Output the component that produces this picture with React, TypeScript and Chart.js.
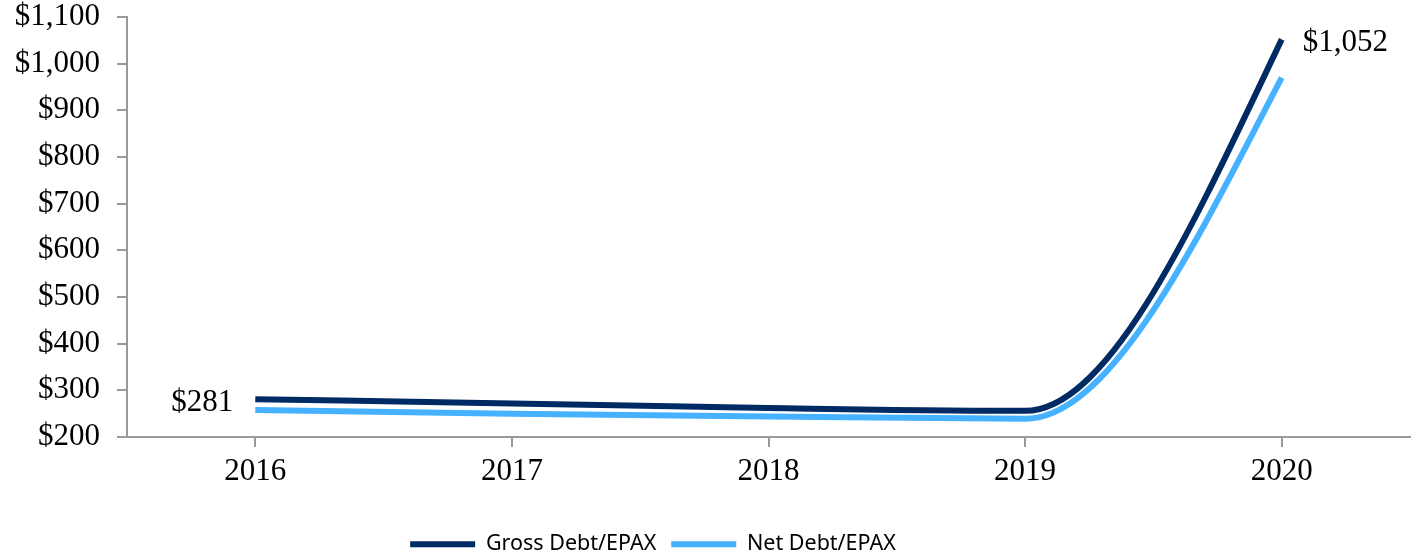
import React, { useEffect, useRef } from "react";
import { Chart, registerables } from "chart.js";

Chart.register(...registerables);

const categories = ["2016", "2017", "2018", "2019", "2020"];
const grossDebt = [281, 272, 262, 256, 1052];
const netDebt = [258, 250, 244, 239, 970];
const yTicks = [200, 300, 400, 500, 600, 700, 800, 900, 1000, 1100];
const seriesNames = ["Gross Debt/EPAX", "Net Debt/EPAX"];
const seriesColors = ["#002a64", "#45b1ff"];
// data labels: [datasetIndex, pointIndex, side]
const dataLabels: [number, number, string][] = [
  [0, 0, "left"],
  [0, 4, "right"],
];
// smoothing: how steep the curve ends compared with the last segment's secant
const endTangentScale = 1.45;

const fmt = (v: number) => "$" + v.toLocaleString("en-US");

const labelPlugin = {
  id: "pointLabels",
  afterDatasetsDraw(chart: any) {
    const ctx = chart.ctx;
    ctx.save();
    ctx.font = "31px 'Liberation Serif'";
    ctx.fillStyle = "#000";
    ctx.textBaseline = "middle";
    dataLabels.forEach(([di, pi, side]) => {
      const meta = chart.getDatasetMeta(di);
      const pt = meta.data[pi];
      const v = chart.data.datasets[di].data[pi] as number;
      if (side === "left") {
        ctx.textAlign = "right";
        ctx.fillText(fmt(v), pt.x - 22, pt.y + 4);
      } else {
        ctx.textAlign = "left";
        ctx.fillText(fmt(v), pt.x + 21, pt.y + 3);
      }
    });
    ctx.restore();
  },
};

const endTangent = {
  id: "endTangent",
  beforeDatasetDraw(chart: any, args: any) {
    const line = args.meta.dataset;
    if (!line) return;
    line.updateControlPoints(chart.chartArea, "x");
    const pts = line._points || line.points;
    const n = pts.length;
    if (n < 2) return;
    const last = pts[n - 1];
    const prev = pts[n - 2];
    last.cp1y = last.y - (endTangentScale * (last.y - prev.y)) / 3;
  },
};

const legendShift = {
  id: "legendShift",
  afterLayout(chart: any) {
    const lg = chart.legend;
    if (lg) {
      lg.left -= 52;
      lg.right -= 52;
    }
  },
};

export default function App() {
  const ref = useRef<HTMLCanvasElement>(null);
  useEffect(() => {
    if (!ref.current) return;
    const chart = new Chart(ref.current, {
      type: "line",
      data: {
        labels: categories,
        datasets: [
          {
            label: seriesNames[0],
            data: grossDebt,
            borderColor: seriesColors[0],
            backgroundColor: seriesColors[0],
            borderWidth: 6,
            pointRadius: 0,
            cubicInterpolationMode: "monotone",
            borderCapStyle: "butt",
          },
          {
            label: seriesNames[1],
            data: netDebt,
            borderColor: seriesColors[1],
            backgroundColor: seriesColors[1],
            borderWidth: 6,
            pointRadius: 0,
            cubicInterpolationMode: "monotone",
            borderCapStyle: "butt",
          },
        ],
      },
      options: {
        animation: false,
        responsive: true,
        maintainAspectRatio: false,
        layout: { padding: { top: 0, right: 8, bottom: -9, left: 0 } },
        plugins: {
          tooltip: { enabled: false },
          legend: {
            position: "bottom",
            labels: {
              boxWidth: 65,
              boxHeight: 6,
              padding: 15,
              color: "#000",
              font: { family: "'Noto Sans'", size: 21.5 },
              generateLabels: (c: any) =>
                c.data.datasets.map((d: any, i: number) => ({
                  text: d.label,
                  fillStyle: d.borderColor,
                  strokeStyle: d.borderColor,
                  lineWidth: 0,
                  hidden: false,
                  datasetIndex: i,
                  fontColor: "#000",
                })),
            },
          },
        },
        scales: {
          x: {
            offset: true,
            grid: {
              display: true,
              drawOnChartArea: false,
              drawTicks: true,
              tickLength: 10,
              color: "#9a9a9a",
              lineWidth: 2,
            },
            border: { display: true, color: "#9a9a9a", width: 2 },
            ticks: {
              color: "#000",
              font: { family: "'Liberation Serif'", size: 31, lineHeight: 1.2 },
              padding: 6,
              maxRotation: 0,
            },
            afterFit: (s: any) => {
              s.height = 81.5;
            },
          },
          y: {
            min: 200,
            max: 1100,
            afterBuildTicks: (s: any) => {
              s.ticks = yTicks.map((v) => ({ value: v }));
            },
            grid: {
              display: true,
              drawOnChartArea: false,
              drawTicks: true,
              tickLength: 10,
              color: "#9a9a9a",
              lineWidth: 2,
            },
            border: { display: true, color: "#9a9a9a", width: 2 },
            ticks: {
              color: "#000",
              font: { family: "'Liberation Serif'", size: 31, lineHeight: 1 },
              padding: 17,
              callback: (v: any) => fmt(Number(v)),
            },
            afterFit: (s: any) => {
              s.width = 127;
              s.paddingTop = 17;
              s.paddingBottom = 0;
            },
          },
        },
      },
      plugins: [labelPlugin, legendShift, endTangent],
    });
    return () => chart.destroy();
  }, []);
  return (
    <div style={{ position: "fixed", left: 0, top: 0, width: 1418, height: 556, background: "#fff" }}>
      <canvas ref={ref} />
    </div>
  );
}
